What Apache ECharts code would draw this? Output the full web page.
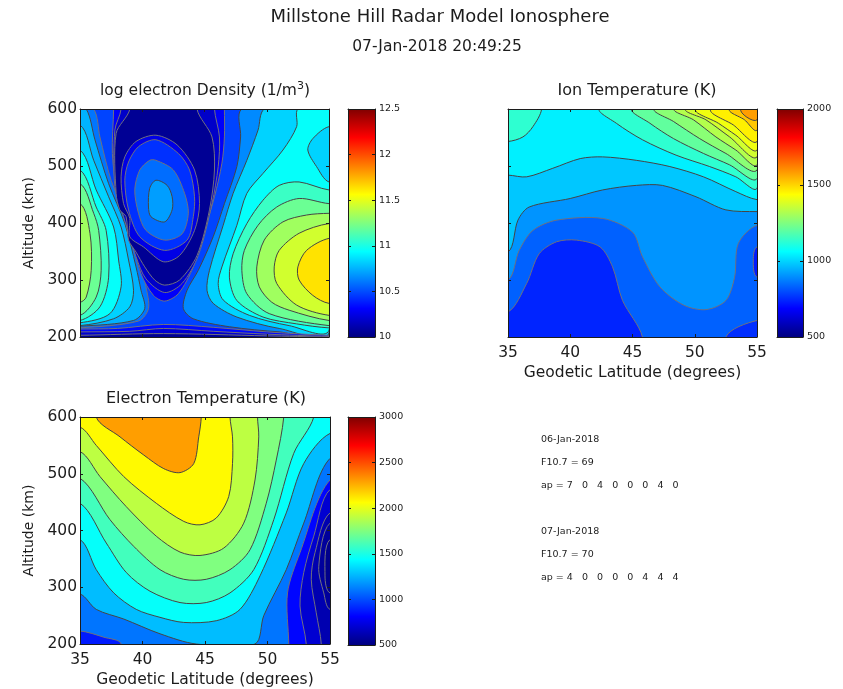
<!DOCTYPE html>
<html><head><meta charset="utf-8">
<style>html,body{margin:0;background:#fff}#c{width:843px;height:689px}canvas{filter:blur(.45px)}</style>
<script src="https://cdn.jsdelivr.net/npm/echarts@6/dist/echarts.min.js"></script>
</head><body><div id="c"></div>
<script>
// ---- text -----
const mainTitle = 'Millstone Hill Radar Model Ionosphere';
const timeStamp = '07-Jan-2018 20:49:25';
const panelTitles = ['Ion Temperature (K)', 'Electron Temperature (K)'];
const latTicks = [35, 40, 45, 50, 55];
const altTicks = [200, 300, 400, 500, 600];
const dayOne = { date: '06-Jan-2018', f107: 69, ap: [7, 0, 4, 0, 0, 0, 4, 0] };
const dayTwo = { date: '07-Jan-2018', f107: 70, ap: [4, 0, 0, 0, 0, 4, 4, 4] };

// points beyond the axis range that close a contour outside the clipped plot
const NE = [58, 700], NW = [32, 700], SE = [58, 100], SW = [32, 100];

// ---- log electron density: contour level + contour [latitude, altitude] ----
const densityRange = [10, 12.5], densityTicks = [10, 10.5, 11, 11.5, 12, 12.5], densityBase = 10.48;
const densityLevels = [10.6, 10.75, 10.83, 10.95, 11.08, 11.2, 11.33,
  10.65, 10.83, 10.95, 10.83, 11.08, 11.2, 11.33, 11.45, 11.63,
  10.3, 10.18, 10.05, 10.25, 10.43, 10.58, 10.7, 10.33, 10.2, 10.05];
const densityContours = [
  [[36.1,600],[36.6,551],[37.5,475],[38.7,411],[39.8,335],[40.3,288],[40.5,250],[39.7,228],[35,216],[32,216],NW],
  [[35.5,600],[36.2,546],[37.3,469],[38.6,399],[39.5,323],[39.9,282],[40.2,250],[39.3,229],[35,219],[32,219],NW],
  [[35,572],[36.1,510],[37.3,446],[38.3,393],[38.9,335],[39.3,282],[39,253],[37.7,232],[35,220],[32,220],[32,572]],
  [[35,528],[36.3,458],[37.7,393],[38.1,335],[38.3,288],[37.4,241],[35,225],[32,225],[32,528]],
  [[35,493],[36.3,428],[37.1,387],[37.3,305],[36.6,253],[35,229],[32,229],[32,493]],
  [[35,469],[36.1,417],[36.5,387],[36.7,317],[36.3,270],[35,238],[32,238],[32,469]],
  [[35,434],[35.8,382],[35.9,317],[35.5,270],[35,261],[32,261],[32,434]],
  [[48,600],[47.9,551],[47.6,499],[46.6,434],[45.7,376],[44.5,317],[43.6,282],[43.3,250],[44.1,232],[47,218],[51,209],[55,205],NE],
  [[49.8,600],[49.3,563],[48.4,510],[47.3,452],[46.5,396],[45.4,317],[45.2,282],[45.7,259],[47.6,235],[51,215],[55,207],NE],
  [[52.5,600],[52.4,569],[51.3,528],[49.7,487],[48.4,452],[47.6,396],[46.4,323],[46.1,294],[46.5,265],[48.6,238],[51.8,220],[55,212],NE],
  [[55,569],[53.7,548],[53.3,528],[54,499],[55,472],[58,472],[58,569]],
  [[55,458],[52.6,472],[51,466],[49.7,440],[48.4,399],[47.3,346],[47,305],[47.6,264],[49.7,235],[52.4,223],[55,216],[58,216],[58,458]],
  [[55,434],[52.6,443],[50.8,428],[49.3,396],[48.2,352],[48,317],[48.4,276],[50.2,241],[55,220],[58,220],[58,434]],
  [[55,417],[53.2,414],[51.3,402],[49.8,370],[49.2,323],[49.4,288],[50.4,261],[51.8,247],[55,229],[58,229],[58,417]],
  [[55,399],[52.6,382],[51,352],[50.6,323],[50.8,294],[52.4,256],[55,238],[58,238],[58,399]],
  [[55,373],[53.2,352],[52.5,323],[52.6,300],[53.7,273],[55,259],[58,259],[58,373]],
  [[37.7,600],[37.6,522],[38,452],[39,381],[39.9,311],[40.9,273],[41.8,263],[42.9,276],[44.1,323],[45,387],[45.8,446],[46.4,505],[46.6,551],[46.6,600],[46.6,700],[37.7,700]],
  [[38.3,600],[37.8,563],[37.8,464],[38.5,411],[39.5,341],[40.3,302],[41.8,278],[43.2,294],[44.5,343],[45.6,434],[46.1,499],[46.2,551],[45.8,600],[45.8,700],[38.3,700]],
  [[39,600],[37.9,557],[37.9,452],[38.2,423],[38.7,411],[38.9,370],[39.5,349],[40.2,323],[41,300],[41.8,291],[43,300],[44.4,343],[45.4,423],[45.8,493],[45.6,551],[44.4,600],[44.4,700],[39,700]],
  [[41.1,554],[39.5,543],[38.6,516],[38.3,481],[38.5,434],[39,408],[39,376],[40.1,358],[41.7,332],[43,343],[44.2,387],[44.6,434],[44.2,493],[42.8,537]],
  [[41.1,546],[39.7,534],[38.9,507],[38.6,475],[38.9,423],[39.8,376],[41.8,352],[43.6,370],[44.1,411],[44.2,446],[43.8,493],[42.9,522]],
  [[40.6,510],[39.8,493],[39.4,458],[39.7,417],[40.3,387],[41.8,370],[43.2,381],[43.7,417],[43.4,452],[42.5,493],[41.1,510]],
  [[41.1,475],[40.6,461],[40.5,428],[40.7,411],[41.8,402],[42.4,423],[42.4,446],[42,466]],
  [[35,214],[38,215],[41.7,222],[45.7,217],[50,209],[55,203],[58,203],SE,SW,[32,214]],
  [[35,209],[39,210],[41.7,215],[45.7,210],[50,205],[55,201],[58,201],SE,SW,[32,209]],
  [[35,203],[41.7,206],[50,202],[55,200],[58,200],SE,SW,[32,203]]
];

// ---- ion temperature ----
const ionRange = [500, 2000], ionTicks = [500, 1000, 1500, 2000], ionBase = 1040;
const ionLevels = [980, 905, 830, 740, 755, 725, 1130,
  1130, 1205, 1265, 1325, 1370, 1415, 1460, 1520, 1580];
const ionContours = [
  [[35,484],[36.5,481],[38.6,496],[40.8,513],[42.6,516],[45.3,510],[48,499],[50.7,481],[53.3,455],[55,441],[58,441],SE,SW,[32,484]],
  [[35,349],[35.8,405],[36.7,428],[40,443],[42.6,458],[45.3,466],[47.4,466],[50.1,446],[52.5,423],[55,420],[58,420],SE,SW,[32,349]],
  [[35,300],[35.9,352],[37,387],[38.9,405],[42.6,408],[45,384],[45.8,341],[47.2,288],[49.1,256],[50.9,248],[52.5,264],[53.2,305],[53.5,364],[55,396],[58,396],SE,SW,[32,300]],
  [[35,244],[36.5,294],[37.5,346],[38.9,367],[40.5,370],[42.4,358],[43.4,323],[44.2,264],[45.8,200],[46,100],SW,[32,244]],
  [[52.5,200],[55,229],[58,229],SE,[52.5,100]],
  [[55,358],[54.7,335],[55,305],[58,305],[58,358]],
  [[37.7,600],[37,569],[36.2,551],[35,543],[32,543],NW,[37.7,700]],
  [[42.4,600],[43.7,575],[45.8,546],[48.5,519],[51.2,499],[53.3,481],[55,461],NE],
  [[45,600],[46.4,575],[48.3,548],[50.7,522],[52.8,502],[55,478],NE],
  [[46.8,600],[48.3,578],[50.4,548],[52.5,522],[55,493],NE],
  [[48.4,600],[49.9,581],[51.7,551],[53.3,528],[55,502],NE],
  [[49.3,600],[50.9,581],[52.8,551],[55,516],NE],
  [[50.1,600],[51.9,575],[53.3,554],[55,528],NE],
  [[51.3,600],[53.1,572],[55,543],NE],
  [[52.8,600],[54,581],[55,563],NE],
  [[53.7,600],[55,581],NE]
];

// ---- electron temperature ----
const elecRange = [500, 3000], elecTicks = [500, 1000, 1500, 2000, 2500, 3000], elecBase = 1100;
const elecLevels = [1275, 1450, 1600, 1750, 1900, 2075, 2300, 875, 825, 700, 620, 570, 530];
const elecContours = [
  [[35,288],[36.3,261],[38.5,244],[41.4,218],[44.3,200],[49,200],[49.7,250],[51.5,331],[52.9,413],[55,527],[58,527],NE,NW,[32,288]],
  [[35,384],[36.3,331],[37.7,290],[39.5,261],[41.4,247],[43.3,238],[45.9,241],[47.8,261],[49.4,320],[51.5,431],[52.9,518],[55,571],[58,571],NE,NW,[32,384]],
  [[35,448],[37.1,378],[38.7,326],[40.6,293],[43,273],[45.1,273],[47,290],[48.9,331],[50.5,419],[52.1,536],[53.7,600],[54,700],NW,[32,448]],
  [[35,492],[37.4,419],[39.3,372],[41.4,331],[43.3,314],[45.1,314],[47,331],[48.6,366],[49.9,448],[50.7,524],[51.3,600],[51.4,700],NW,[32,492]],
  [[35,539],[36.6,495],[38.7,442],[41.1,390],[43,362],[44.6,356],[46.5,369],[48.1,413],[49,489],[49.3,565],[49.2,600],[49.2,700],NW,[32,539]],
  [[35,582],[36.3,550],[38.5,495],[41.1,448],[43.3,416],[44.6,410],[45.9,422],[46.9,460],[47.2,518],[47.2,565],[47,600],[47,700],NW,[32,582]],
  [[36.3,600],[38.2,565],[40.1,533],[41.7,509],[43,502],[44.1,518],[44.5,565],[44.7,600],[44.7,700],[36.3,700]],
  [[35,223],[36.9,212],[38.3,200],[38.3,100],SW,[32,223]],
  [[51.7,200],[51.6,290],[52.6,361],[55,489],[58,489],SE,[51.7,100]],
  [[53.1,200],[52.6,267],[52.9,326],[53.7,390],[55,472],[58,472],SE,[53.1,100]],
  [[54.3,200],[53.9,255],[53.5,314],[53.8,361],[55,431],[58,431],SE,[54.3,100]],
  [[55,261],[54.5,290],[54.1,337],[55,413],[58,413],[58,261]],
  [[55,290],[54.6,320],[55,384],[58,384],[58,290]]
];

// ---- helpers ----
const jetStops = [0, .125, .375, .625, .875, 1];
function jet(f) {
  const c = v => Math.round(255 * Math.max(0, Math.min(1, v)));
  return `rgb(${c(1.5 - Math.abs(4 * f - 3))},${c(1.5 - Math.abs(4 * f - 2))},${c(1.5 - Math.abs(4 * f - 1))})`;
}
const INK = '#1c1c1c', FONT = '"DejaVu Sans", sans-serif';
const grids = [], xAxes = [], yAxes = [], series = [];

function addGrid(left, top, width, height) { grids.push({ left, top, width, height }); return grids.length - 1; }
const baseAxis = (gi, min, max, ticks) => ({
  type: 'value', gridIndex: gi, min, max, interval: ticks[1] - ticks[0], z: 6, silent: true,
  splitLine: { show: false }, axisLine: { show: true, onZero: false, lineStyle: { color: INK, width: 1 } },
  axisTick: { show: true, inside: true, length: 3, lineStyle: { color: INK } }
});
function addPanel(box, contours, levels, base, range, showX, showY) {
  const gi = addGrid(...box);
  const xi = xAxes.length, yi = yAxes.length;
  const tickLabel = { show: true, color: INK, fontFamily: FONT, fontSize: 15.5, margin: 8 };
  xAxes.push(Object.assign(baseAxis(gi, 35, 55, latTicks), { position: 'bottom', axisLabel: showX ? tickLabel : { show: false },
    name: showX ? 'Geodetic Latitude (degrees)' : '', nameLocation: 'middle', nameGap: 28,
    nameTextStyle: { color: INK, fontFamily: FONT, fontSize: 15.5 } }));
  xAxes.push(Object.assign(baseAxis(gi, 35, 55, latTicks), { position: 'top', axisLabel: { show: false } }));
  yAxes.push(Object.assign(baseAxis(gi, 200, 600, altTicks), { position: 'left',
    axisLabel: showY ? Object.assign({}, tickLabel, { margin: 3, padding: [3, 0, 0, 0] }) : { show: false },
    name: showY ? 'Altitude (km)' : '', nameLocation: 'middle', nameGap: 44, nameRotate: 90,
    nameTextStyle: { color: INK, fontFamily: FONT, fontSize: 14 } }));
  yAxes.push(Object.assign(baseAxis(gi, 200, 600, altTicks), { position: 'right', axisLabel: { show: false } }));
  const f = v => (v - range[0]) / (range[1] - range[0]);
  series.push({
    type: 'custom', xAxisIndex: xi, yAxisIndex: yi, clip: true, silent: true, animation: false, z: 2,
    data: levels.map(v => [v]), encode: { x: -1, y: -1 },
    renderItem(p, api) {
      const tl = api.coord([35, 600]), br = api.coord([55, 200]);
      const rect = { type: 'rect', shape: { x: tl[0], y: tl[1], width: br[0] - tl[0], height: br[1] - tl[1] }, style: { fill: jet(f(base)) } };
      const level = f(levels[p.dataIndex]);
      const poly = { type: 'polygon', shape: { points: contours[p.dataIndex].map(q => api.coord(q)), smooth: 0.3 },
        style: { fill: jet(level), stroke: level < 0.25 ? '#70707e' : '#454545', lineWidth: 1 } };
      return p.dataIndex === 0 ? { type: 'group', children: [rect, poly] } : poly;
    }
  });
}
function addColorbar(box, range, ticks) {
  const gi = addGrid(...box);
  const xi = xAxes.length, yi = yAxes.length;
  const lineAxis = (position) => ({ type: 'value', gridIndex: gi, min: 0, max: 1, position, z: 6, silent: true,
    splitLine: { show: false }, axisLabel: { show: false }, axisTick: { show: false },
    axisLine: { show: true, onZero: false, lineStyle: { color: INK } } });
  xAxes.push(lineAxis('bottom')); xAxes.push(lineAxis('top'));
  yAxes.push(Object.assign(baseAxis(gi, range[0], range[1], ticks), { position: 'right',
    axisLabel: { show: true, color: INK, fontFamily: FONT, fontSize: 9.5, margin: 4, formatter: v => String(v) } }));
  yAxes.push(Object.assign(baseAxis(gi, range[0], range[1], ticks), { position: 'left', axisLabel: { show: false } }));
  series.push({
    type: 'custom', xAxisIndex: xi, yAxisIndex: yi, silent: true, animation: false, z: 2, data: [[0]], encode: { x: -1, y: -1 },
    renderItem(p, api) {
      const a = api.coord([0, range[1]]), b = api.coord([1, range[0]]);
      return { type: 'rect', shape: { x: a[0], y: a[1], width: b[0] - a[0], height: b[1] - a[1] },
        style: { fill: { type: 'linear', x: 0, y: 1, x2: 0, y2: 0, colorStops: jetStops.map(s => ({ offset: s, color: jet(s) })) } } };
    }
  });
}

addPanel([80, 109, 249, 228], densityContours, densityLevels, densityBase, densityRange, false, true);
addColorbar([348, 109, 27, 228], densityRange, densityTicks);
addPanel([508, 109, 249, 228], ionContours, ionLevels, ionBase, ionRange, true, false);
addColorbar([777, 109, 26, 228], ionRange, ionTicks);
addPanel([80, 417, 250, 228], elecContours, elecLevels, elecBase, elecRange, true, true);
addColorbar([348, 417, 27, 228], elecRange, elecTicks);

const T = (text, left, top, fontSize, textAlign) => ({ text, left, top, textAlign: textAlign || 'left', padding: 0,
  textStyle: { color: INK, fontFamily: FONT, fontSize, fontWeight: 'normal',
    rich: { a: { color: INK, fontFamily: FONT, fontSize }, s: { color: INK, fontFamily: FONT, fontSize: 11, padding: [0, 0, 8, 0] } } } });
const apLine = d => 'ap = ' + d.ap.join('   ');
const titles = [
  T(mainTitle, 440, 8, 18, 'center'),
  T(timeStamp, 437, 39, 15.5, 'center'),
  T('{a|log electron Density (1/m}{s|3}{a|)}', 205, 81, 15.5, 'center'),
  T(panelTitles[0], 637, 83, 16, 'center'),
  T(panelTitles[1], 206, 391, 16, 'center'),
  T(dayOne.date, 541, 435, 9.5), T('F10.7 = ' + dayOne.f107, 541, 458, 9.5), T(apLine(dayOne), 541, 481, 9.5),
  T(dayTwo.date, 541, 527, 9.5), T('F10.7 = ' + dayTwo.f107, 541, 550, 9.5), T(apLine(dayTwo), 541, 573, 9.5)
];

const chart = echarts.init(document.getElementById('c'), null, { renderer: 'canvas' });
chart.setOption({ animation: false, backgroundColor: '#fff', title: titles, grid: grids, xAxis: xAxes, yAxis: yAxes, series });
</script></body></html>
